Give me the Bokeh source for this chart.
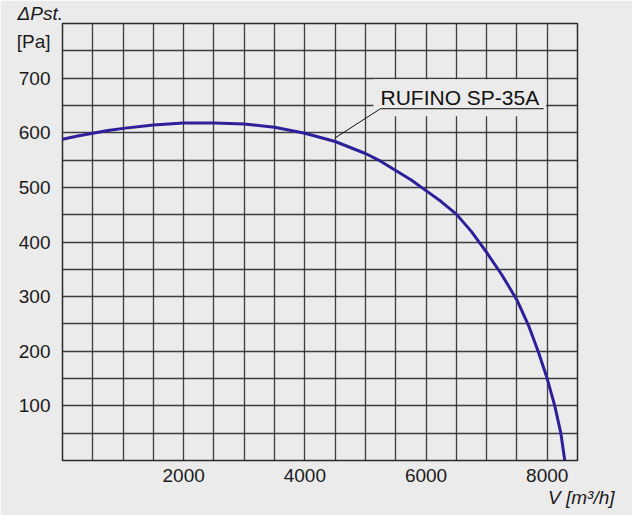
from bokeh.plotting import figure
from bokeh.models import FixedTicker, Label, Range1d, Title
from bokeh.embed import file_html
from bokeh.resources import INLINE

# data
flow = [0, 250, 500, 750, 1000, 1500, 2000, 2500, 3000, 3500, 4000, 4500,
        5000, 5250, 5500, 5750, 6000, 6250, 6500, 6750, 7000, 7250, 7500,
        7700, 7850, 8000, 8125, 8225, 8290]
pressure = [588, 594, 599, 604, 608, 614, 618, 618, 616, 610, 599, 584,
            562, 548, 531, 514, 494, 474, 451, 419, 381, 340, 294,
            245, 200, 150, 100, 50, 0]
x_ticks = [2000, 4000, 6000, 8000]
y_ticks = [100, 200, 300, 400, 500, 600, 700, 767]
y_tick_text = {767: "[Pa]"}
x_grid = list(range(0, 8501, 500))
y_grid = list(range(0, 801, 50))
series_name = "RUFINO SP-35A"
leader_x = [4493, 5248, 7942]
leader_y = [590, 644, 644]
x_title = "V [m³/h]"
y_title = "ΔPst."

BG = "#ebebeb"
GRID = "#2b2b2b"
FONT = "Liberation Sans"
TXT = "#1a1a1a"

p = figure(width=632, height=515, output_backend="svg", toolbar_location=None,
           x_range=Range1d(0, 8500), y_range=Range1d(0, 800),
           background_fill_color=BG, border_fill_color=BG,
           min_border_left=62, min_border_right=55, min_border_top=23,
           min_border_bottom=55)

p.add_layout(Title(text=y_title, align="left", offset=-45, standoff=0,
                   text_font=FONT, text_font_size="19px",
                   text_font_style="italic", text_color=TXT), "above")
p.add_layout(Title(text=x_title, align="right", offset=-37, standoff=0,
                   text_font=FONT, text_font_size="19px",
                   text_font_style="italic", text_color=TXT), "below")

p.xgrid.ticker = FixedTicker(ticks=x_grid)
p.ygrid.ticker = FixedTicker(ticks=y_grid)
for g in (p.xgrid, p.ygrid):
    g.grid_line_color = GRID
    g.grid_line_width = 1.3
    g.grid_line_alpha = 0.9

p.outline_line_color = GRID
p.outline_line_width = 1.5

p.xaxis.ticker = FixedTicker(ticks=x_ticks)
p.yaxis.ticker = FixedTicker(ticks=y_ticks)
p.yaxis.major_label_overrides = y_tick_text
for ax in (p.xaxis, p.yaxis):
    ax.axis_line_color = None
    ax.major_tick_line_color = None
    ax.minor_tick_line_color = None
    ax.major_label_text_font = FONT
    ax.major_label_text_font_size = "19px"
    ax.major_label_text_color = TXT
p.xaxis.major_label_standoff = 2
p.yaxis.major_label_standoff = 6

name_label = Label(x=leader_x[1], y=leader_y[1], x_offset=-7, y_offset=11,
                   text=series_name, text_font=FONT, text_font_size="21px",
                   text_color="#111111", text_baseline="alphabetic",
                   text_align="left", background_fill_color=BG, padding=7)
name_label.level = "underlay"
p.add_layout(name_label)

p.line(flow, pressure, line_color="#2f1f9a", line_width=3)
leader = p.line(leader_x, leader_y, line_color="#111111", line_width=1)
leader.level = "overlay"

open("out.html", "w").write(file_html(p, INLINE))
